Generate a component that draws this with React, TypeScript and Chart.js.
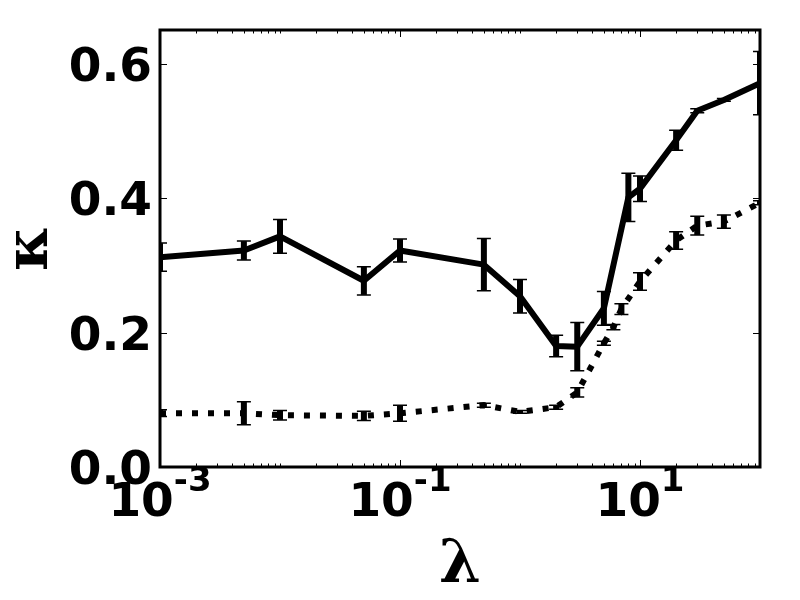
import React, { useEffect, useRef } from "react";
import { Chart, registerables } from "chart.js";

Chart.register(...registerables);

// Solid series
const solidLambda = [0.001, 0.005, 0.01, 0.05, 0.1, 0.5, 1, 2, 3, 5, 8, 10, 20, 30, 50, 100];
const solidKappa = [0.312, 0.322, 0.343, 0.277, 0.322, 0.301, 0.254, 0.180, 0.179, 0.236, 0.401, 0.414, 0.486, 0.530, 0.546, 0.571];
const solidErr = [0.021, 0.014, 0.025, 0.021, 0.017, 0.039, 0.025, 0.016, 0.036, 0.025, 0.036, 0.019, 0.015, 0.003, 0.002, 0.047];

// Dotted series
const dottedLambda = [0.001, 0.005, 0.01, 0.05, 0.1, 0.5, 1, 2, 3, 5, 6, 7, 10, 20, 30, 50, 100];
const dottedKappa = [0.080, 0.080, 0.077, 0.076, 0.080, 0.092, 0.082, 0.089, 0.111, 0.184, 0.208, 0.235, 0.276, 0.337, 0.359, 0.365, 0.393];
const dottedErr = [0.005, 0.017, 0.007, 0.007, 0.012, 0.003, 0.002, 0.003, 0.007, 0.003, 0.004, 0.008, 0.013, 0.013, 0.014, 0.010, 0.003];

// Axes
const xMin = 0.001;
const xMax = 100;
const yMin = 0;
const yMax = 0.65;
const xLabelExponents = ["-3", "-1", "1"];
const xLabelValues = [0.001, 0.1, 10];
const yTickValues = [0, 0.2, 0.4, 0.6];
const yTickLabels = ["0.0", "0.2", "0.4", "0.6"];
const xAxisTitle = "λ";
const yAxisTitle = "κ";

const TICK_FONT = "bold 47px 'DejaVu Sans'";
const SUP_FONT = "bold 34px 'DejaVu Sans'";
const TITLE_FONT = "bold 60px 'DejaVu Serif'";

const decorPlugin = {
  id: "decor",
  beforeDatasetsDraw(chart: any) {
    const ctx = chart.ctx;
    const xs = chart.scales.x;
    const ys = chart.scales.y;
    ctx.save();
    ctx.beginPath();
    ctx.rect(chart.chartArea.left, chart.chartArea.top - 40, chart.chartArea.right - chart.chartArea.left, chart.chartArea.bottom - chart.chartArea.top + 40);
    ctx.clip();
    chart.data.datasets.forEach((ds: any) => {
      const errs: number[] = ds.errors || [];
      ds.data.forEach((p: any, i: number) => {
        const e = errs[i];
        if (e == null) return;
        const px = xs.getPixelForValue(p.x);
        const y1 = ys.getPixelForValue(p.y - e);
        const y2 = ys.getPixelForValue(p.y + e);
        ctx.strokeStyle = "#000";
        ctx.lineCap = "butt";
        ctx.setLineDash([]);
        ctx.lineWidth = 6;
        ctx.beginPath();
        ctx.moveTo(px, y1);
        ctx.lineTo(px, y2);
        ctx.stroke();
        ctx.lineWidth = 1.5;
        ctx.beginPath();
        ctx.moveTo(px - 7, y1);
        ctx.lineTo(px + 7, y1);
        ctx.moveTo(px - 7, y2);
        ctx.lineTo(px + 7, y2);
        ctx.stroke();
      });
    });
    ctx.restore();
  },
  afterDatasetsDraw(chart: any) {
    const ctx = chart.ctx;
    const xs = chart.scales.x;
    const ys = chart.scales.y;
    const { left, right, top, bottom } = chart.chartArea;
    ctx.save();
    ctx.strokeStyle = "#000";
    ctx.fillStyle = "#000";
    ctx.setLineDash([]);

    // x ticks (inside, top and bottom)
    ctx.lineWidth = 1;
    for (let d = -3; d <= 2; d++) {
      for (let m = 1; m <= 9; m++) {
        const v = m * Math.pow(10, d);
        if (v < xMin - 1e-12 || v > xMax + 1e-9) continue;
        const px = Math.round(xs.getPixelForValue(v)) + 0.5;
        const major = m === 1 && xLabelValues.some((lv) => Math.abs(lv - v) < 1e-12);
        const len = major ? 7 : 3.5;
        ctx.beginPath();
        ctx.moveTo(px, bottom);
        ctx.lineTo(px, bottom - len);
        ctx.moveTo(px, top);
        ctx.lineTo(px, top + len);
        ctx.stroke();
      }
    }
    // y ticks (inside, left and right)
    yTickValues.forEach((v) => {
      const py = Math.round(ys.getPixelForValue(v)) + 0.5;
      ctx.beginPath();
      ctx.moveTo(left, py);
      ctx.lineTo(left + 7, py);
      ctx.moveTo(right, py);
      ctx.lineTo(right - 7, py);
      ctx.stroke();
    });

    // frame
    ctx.lineWidth = 3;
    ctx.strokeRect(left, top, right - left, bottom - top);

    // y tick labels
    ctx.font = TICK_FONT;
    ctx.textAlign = "right";
    ctx.textBaseline = "alphabetic";
    yTickValues.forEach((v, i) => {
      const py = ys.getPixelForValue(v);
      ctx.fillText(yTickLabels[i], left - 8, py + 17);
    });

    // x tick labels with superscripts
    xLabelValues.forEach((v, i) => {
      const px = xs.getPixelForValue(v);
      ctx.font = TICK_FONT;
      const wBase = ctx.measureText("10").width;
      ctx.font = SUP_FONT;
      const wSup = ctx.measureText(xLabelExponents[i]).width;
      const start = px - (wBase + wSup) / 2;
      ctx.textAlign = "left";
      ctx.font = TICK_FONT;
      ctx.fillText("10", start, bottom + 49);
      ctx.font = SUP_FONT;
      ctx.fillText(xLabelExponents[i], start + wBase, bottom + 24);
    });

    // axis titles
    ctx.font = TITLE_FONT;
    ctx.textAlign = "center";
    ctx.textBaseline = "middle";
    ctx.fillText(xAxisTitle, (left + right) / 2, 566);
    ctx.save();
    ctx.translate(31, (top + bottom) / 2);
    ctx.rotate(-Math.PI / 2);
    ctx.fillText(yAxisTitle, 0, 0);
    ctx.restore();

    ctx.restore();
  },
};

export default function App() {
  const canvasRef = useRef<HTMLCanvasElement | null>(null);

  useEffect(() => {
    const canvas = canvasRef.current;
    if (!canvas) return;
    const chart = new Chart(canvas, {
      type: "line",
      data: {
        datasets: [
          {
            label: "solid",
            data: solidLambda.map((x, i) => ({ x, y: solidKappa[i] })),
            borderColor: "#000",
            backgroundColor: "#000",
            borderWidth: 6,
            borderJoinStyle: "round",
            pointRadius: 0,
            tension: 0,
            fill: false,
            errors: solidErr,
          } as any,
          {
            label: "dotted",
            data: dottedLambda.map((x, i) => ({ x, y: dottedKappa[i] })),
            borderColor: "#000",
            backgroundColor: "#000",
            borderWidth: 6,
            borderDash: [6, 10],
            borderCapStyle: "butt",
            pointRadius: 0,
            tension: 0,
            fill: false,
            errors: dottedErr,
          } as any,
        ],
      },
      options: {
        animation: false,
        responsive: false,
        maintainAspectRatio: false,
        devicePixelRatio: 1,
        layout: { padding: { top: 30, right: 40, left: 0, bottom: 0 } },
        plugins: {
          legend: { display: false },
          tooltip: { enabled: false },
          title: { display: false },
        },
        scales: {
          x: {
            type: "logarithmic",
            min: xMin,
            max: xMax,
            grid: { display: false },
            border: { display: false },
            ticks: { display: false },
            afterFit: (s: any) => {
              s.height = 133;
            },
          },
          y: {
            type: "linear",
            min: yMin,
            max: yMax,
            grid: { display: false },
            border: { display: false },
            ticks: { display: false },
            afterFit: (s: any) => {
              s.width = 160;
            },
          },
        },
      },
      plugins: [decorPlugin],
    });
    return () => chart.destroy();
  }, []);

  return (
    <div style={{ position: "absolute", left: 0, top: 0, width: 800, height: 600, background: "#fff" }}>
      <canvas ref={canvasRef} width={800} height={600} style={{ width: 800, height: 600, display: "block" }} />
    </div>
  );
}
